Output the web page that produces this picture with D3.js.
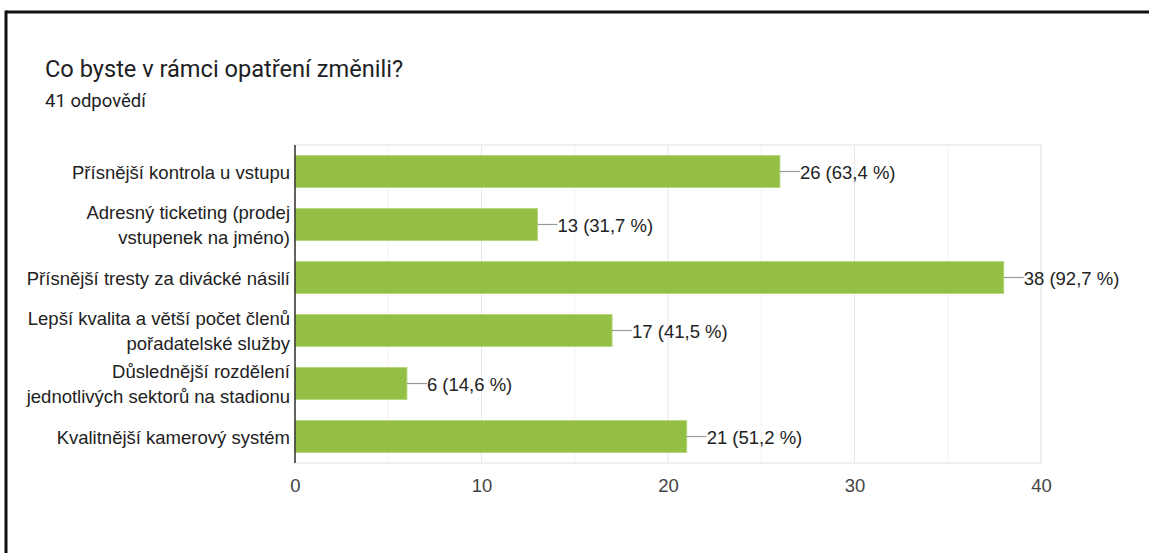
<!DOCTYPE html>
<html>
<head>
<meta charset="utf-8">
<script src="https://cdn.jsdelivr.net/npm/d3@7"></script>
<style>
  html, body { margin: 0; background: #fff; overflow: hidden; }
  svg { display: block; }
</style>
</head>
<body>
<div id="chart"></div>
<script>
"use strict";

// data
var categories = [
  ["Přísnější kontrola u vstupu"],
  ["Adresný ticketing (prodej", "vstupenek na jméno)"],
  ["Přísnější tresty za divácké násilí"],
  ["Lepší kvalita a větší počet členů", "pořadatelské služby"],
  ["Důslednější rozdělení", "jednotlivých sektorů na stadionu"],
  ["Kvalitnější kamerový systém"]
];
var counts = [26, 13, 38, 17, 6, 21];
var percents = ["63,4", "31,7", "92,7", "41,5", "14,6", "51,2"];
var xTicks = [0, 10, 20, 30, 40];
var gridTicks = [5, 10, 15, 20, 25, 30, 35];

var width = 1149, height = 553;
var font = "Arial, 'Liberation Sans', sans-serif";

var svg = d3.select("#chart").append("svg")
  .attr("width", width)
  .attr("height", height);

// frame of the card (only top and left are in view)
svg.append("line")
  .attr("x1", 6).attr("x2", width)
  .attr("y1", 12).attr("y2", 12)
  .attr("stroke", "#111")
  .attr("stroke-width", 3);
svg.append("line")
  .attr("x1", 6).attr("x2", 6)
  .attr("y1", 10.5).attr("y2", height)
  .attr("stroke", "#111")
  .attr("stroke-width", 3);

svg.append("text")
  .attr("x", 45)
  .attr("y", 77)
  .attr("font-family", "Roboto, Arial, sans-serif")
  .attr("font-size", 23.6)
  .attr("fill", "#202124")
  .text("Co byste v rámci opatření změnili?");

svg.append("text")
  .attr("x", 45)
  .attr("y", 107)
  .attr("font-family", "Roboto, Arial, sans-serif")
  .attr("font-size", 18.5)
  .attr("fill", "#202124")
  .text("41 odpovědí");

var plot = { left: 295, right: 1041, top: 145, bottom: 463 };

var x = d3.scaleLinear().domain([0, 40]).range([plot.left, plot.right]);
var y = d3.scaleBand()
  .domain(d3.range(categories.length))
  .range([plot.top, plot.bottom])
  .paddingInner(0.4)
  .paddingOuter(0.2);

// grid
svg.append("g").selectAll("line")
  .data(gridTicks)
  .enter().append("line")
  .attr("x1", function(d) { return x(d); })
  .attr("x2", function(d) { return x(d); })
  .attr("y1", plot.top)
  .attr("y2", plot.bottom)
  .attr("stroke", function(d) { return d % 10 === 0 ? "#e6e6e6" : "#f2f2f2"; })
  .attr("stroke-width", 1);

svg.append("rect")
  .attr("x", plot.left)
  .attr("y", plot.top)
  .attr("width", plot.right - plot.left)
  .attr("height", plot.bottom - plot.top)
  .attr("fill", "none")
  .attr("stroke", "#ebebeb")
  .attr("stroke-width", 1.5);

// bars
var rows = svg.append("g").selectAll("g")
  .data(counts)
  .enter().append("g");

rows.append("rect")
  .attr("x", x(0))
  .attr("y", function(d, i) { return y(i); })
  .attr("width", function(d) { return x(d) - x(0); })
  .attr("height", y.bandwidth())
  .attr("fill", "#93bf44")
  .attr("stroke", "#b3d47a")
  .attr("stroke-width", 1);

rows.append("line")
  .attr("x1", function(d) { return x(d); })
  .attr("x2", function(d) { return x(d) + 20; })
  .attr("y1", function(d, i) { return y(i) + y.bandwidth() / 2; })
  .attr("y2", function(d, i) { return y(i) + y.bandwidth() / 2; })
  .attr("stroke", "#999")
  .attr("stroke-width", 1.2);

rows.append("text")
  .attr("x", function(d) { return x(d) + 20; })
  .attr("y", function(d, i) { return y(i) + y.bandwidth() / 2; })
  .attr("dy", "0.38em")
  .attr("font-family", font)
  .attr("font-size", 18.5)
  .attr("fill", "#222")
  .text(function(d, i) { return d + " (" + percents[i] + " %)"; });

// category labels
var labels = svg.append("g").selectAll("text")
  .data(categories)
  .enter().append("text")
  .attr("text-anchor", "end")
  .attr("font-family", font)
  .attr("font-size", 18.5)
  .attr("fill", "#222");

labels.each(function(lines, i) {
  var cy = y(i) + y.bandwidth() / 2;
  var lh = 25;
  var start = cy - (lines.length - 1) * lh / 2;
  d3.select(this).selectAll("tspan")
    .data(lines)
    .enter().append("tspan")
    .attr("x", plot.left - 5)
    .attr("y", function(d, j) { return start + j * lh; })
    .attr("dy", "0.38em")
    .text(function(d) { return d; });
});

// left axis line
svg.append("line")
  .attr("x1", plot.left)
  .attr("x2", plot.left)
  .attr("y1", plot.top)
  .attr("y2", plot.bottom)
  .attr("stroke", "#333")
  .attr("stroke-width", 1.5);

// x axis ticks
var xAxis = d3.axisBottom(x).tickValues(xTicks).tickSize(0).tickPadding(16);
var gx = svg.append("g")
  .attr("transform", "translate(0," + plot.bottom + ")")
  .call(xAxis);
gx.select(".domain").remove();
gx.selectAll("text")
  .attr("font-family", font)
  .attr("font-size", 18.5)
  .attr("fill", "#444");
</script>
</body>
</html>
